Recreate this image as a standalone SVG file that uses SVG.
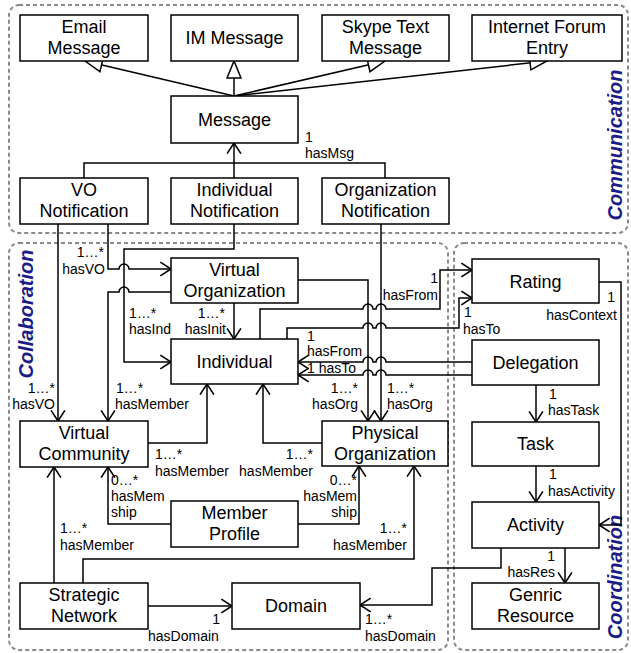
<svg xmlns="http://www.w3.org/2000/svg" width="631" height="653" viewBox="0 0 631 653">
<style>
.c{fill:none;stroke:#8a8a8a;stroke-width:2;stroke-dasharray:4,3}
.b{fill:#fff;stroke:#000;stroke-width:1.5}
.t{font-family:"Liberation Sans",Arial,sans-serif;font-size:18px;fill:#000;text-anchor:middle}
.l{font-family:"Liberation Sans",Arial,sans-serif;font-size:14px;fill:#000}
.e{text-anchor:end}
.g{font-family:"Liberation Sans",Arial,sans-serif;font-size:20px;font-weight:bold;font-style:italic;fill:#1c1c88;text-anchor:middle}
.k{fill:none;stroke:#000;stroke-width:1.5}
.a{marker-end:url(#arr)}
.h{marker-end:url(#tri)}
</style>
<defs>
<marker id="arr" markerUnits="userSpaceOnUse" markerWidth="14" markerHeight="16" viewBox="-1 -1 13 15" refX="10" refY="6.5" orient="auto">
<path d="M0,0 L10,6.5 L0,13" fill="none" stroke="#000" stroke-width="1.5"/>
</marker>
<marker id="tri" markerUnits="userSpaceOnUse" markerWidth="20" markerHeight="18" viewBox="-1 -1 20 18" refX="17" refY="7" orient="auto">
<path d="M0,0 L17,7 L0,14 Z" fill="#fff" stroke="#000" stroke-width="1.5"/>
</marker>
</defs>

<g id="containers">
<rect class="c" x="9" y="5" width="619" height="228" rx="10"/>
<rect class="c" x="9" y="243" width="439" height="407" rx="10"/>
<rect class="c" x="454" y="243" width="174" height="407" rx="10"/>
<text class="g" transform="translate(622,145) rotate(-90)">Communication</text>
<text class="g" transform="translate(33,314) rotate(-90)">Collaboration</text>
<text class="g" transform="translate(622,577) rotate(-90)">Coordination</text>
</g>

<g id="connectors">
<path class="k h" d="M234,96 L85,61"/>
<path class="k h" d="M234,96 L234,61"/>
<path class="k h" d="M234,96 L385,61"/>
<path class="k h" d="M234,96 L547,61"/>
<path class="k a" d="M234,178 L234,143"/>
<path class="k" d="M84,178 L84,163 L385,163 L385,178"/>
<path class="k a" d="M58,224 L58,421"/>
<path class="k a" d="M108,224 L108,269 L119,269 A5,5 0 0 1 129,269 L171,269"/>
<path class="k a" d="M234,224 L234,249 L124,249 L124,362 L171,362"/>
<path class="k a" d="M171,292 L129,292 A5,5 0 0 0 119,292 L108,292 L108,421"/>
<path class="k a" d="M234,303 L234,339"/>
<path class="k a" d="M298,280 L368,280 L368,421"/>
<path class="k a" d="M381,224 L381,421"/>
<path class="k a" d="M260,339 L260,309 L363,309 A5,5 0 0 1 373,309 L376,309 A5,5 0 0 1 386,309 L440,309 L440,270 L472,270"/>
<path class="k a" d="M287,339 L287,328 L363,328 A5,5 0 0 1 373,328 L376,328 A5,5 0 0 1 386,328 L459,328 L459,298 L472,298"/>
<path class="k a" d="M472,362 L386,362 A5,5 0 0 0 376,362 L373,362 A5,5 0 0 0 363,362 L298,362"/>
<path class="k a" d="M472,375 L386,375 A5,5 0 0 0 376,375 L373,375 A5,5 0 0 0 363,375 L298,375"/>
<path class="k a" d="M148,443 L207,443 L207,384"/>
<path class="k a" d="M322,443 L263,443 L263,384"/>
<path class="k a" d="M171,524 L108,524 L108,467"/>
<path class="k a" d="M298,524 L359,524 L359,466"/>
<path class="k a" d="M54,583 L54,467"/>
<path class="k a" d="M83,583 L83,559 L414,559 L414,466"/>
<path class="k a" d="M148,606 L232,606"/>
<path class="k a" d="M501,548 L501,568 L432,568 L432,605 L360,605"/>
<path class="k a" d="M565,548 L565,583"/>
<path class="k a" d="M536,385 L536,422"/>
<path class="k a" d="M536,466 L536,502"/>
<path class="k a" d="M599,282 L621,282 L621,525 L599,525"/>
</g>

<g id="labels">
<text class="l" x="305" y="142">1</text><text class="l" x="305" y="158">hasMsg</text>
<text class="l e" x="55" y="393">1…*</text><text class="l e" x="55" y="409">hasVO</text>
<text class="l e" x="104" y="257">1…*</text><text class="l e" x="105" y="274">hasVO</text>
<text class="l" x="129" y="318">1…*</text><text class="l" x="129" y="334">hasInd</text>
<text class="l e" x="225" y="318">1…*</text><text class="l e" x="226" y="334">hasInit</text>
<text class="l" x="116" y="393">1…*</text><text class="l" x="115" y="409">hasMember</text>
<text class="l e" x="358" y="393">1…*</text><text class="l e" x="358" y="409">hasOrg</text>
<text class="l" x="387" y="393">1…*</text><text class="l" x="387" y="409">hasOrg</text>
<text class="l e" x="438" y="283">1</text><text class="l e" x="438" y="300">hasFrom</text>
<text class="l" x="464" y="317">1</text><text class="l" x="463" y="334">hasTo</text>
<text class="l" x="307" y="341">1</text><text class="l" x="307" y="356">hasFrom</text>
<text class="l" x="307" y="373">1 hasTo</text>
<text class="l" x="155" y="459">1…*</text><text class="l" x="155" y="476">hasMember</text>
<text class="l e" x="313" y="459">1…*</text><text class="l e" x="313" y="476">hasMember</text>
<text class="l" x="111" y="485">0…*</text><text class="l" x="111" y="501">hasMem</text><text class="l" x="111" y="517">ship</text>
<text class="l e" x="357" y="485">0…*</text><text class="l e" x="357" y="501">hasMem</text><text class="l e" x="357" y="517">ship</text>
<text class="l" x="60" y="533">1…*</text><text class="l" x="60" y="550">hasMember</text>
<text class="l e" x="407" y="533">1…*</text><text class="l e" x="407" y="550">hasMember</text>
<text class="l e" x="220" y="624">1</text><text class="l" x="148" y="641">hasDomain</text>
<text class="l" x="365" y="624">1…*</text><text class="l" x="365" y="641">hasDomain</text>
<text class="l e" x="555" y="561">1</text><text class="l e" x="555" y="577">hasRes</text>
<text class="l" x="549" y="399">1</text><text class="l" x="548" y="415">hasTask</text>
<text class="l" x="549" y="479">1</text><text class="l" x="548" y="496">hasActivity</text>
<text class="l e" x="615" y="302">1</text><text class="l e" x="617" y="320">hasContext</text>
</g>

<g id="email-message"><rect class="b" x="20" y="15" width="128" height="46"/><text class="t" x="84" y="33">Email</text><text class="t" x="84" y="54">Message</text></g>
<g id="im-message"><rect class="b" x="171" y="15" width="127" height="46"/><text class="t" x="234.5" y="44">IM Message</text></g>
<g id="skype-text-message"><rect class="b" x="322" y="15" width="127" height="46"/><text class="t" x="385.5" y="33">Skype Text</text><text class="t" x="385.5" y="54">Message</text></g>
<g id="internet-forum-entry"><rect class="b" x="472" y="15" width="150" height="46"/><text class="t" x="547" y="33">Internet Forum</text><text class="t" x="547" y="54">Entry</text></g>
<g id="message"><rect class="b" x="171" y="96" width="127" height="47"/><text class="t" x="234.5" y="126">Message</text></g>
<g id="vo-notification"><rect class="b" x="20" y="178" width="128" height="46"/><text class="t" x="84" y="196">VO</text><text class="t" x="84" y="217">Notification</text></g>
<g id="individual-notification"><rect class="b" x="171" y="178" width="127" height="46"/><text class="t" x="234.5" y="196">Individual</text><text class="t" x="234.5" y="217">Notification</text></g>
<g id="organization-notification"><rect class="b" x="322" y="178" width="127" height="46"/><text class="t" x="385.5" y="196">Organization</text><text class="t" x="385.5" y="217">Notification</text></g>

<g id="virtual-organization"><rect class="b" x="171" y="258" width="127" height="45"/><text class="t" x="234.5" y="276">Virtual</text><text class="t" x="234.5" y="297">Organization</text></g>
<g id="individual"><rect class="b" x="171" y="339" width="127" height="45"/><text class="t" x="234.5" y="368">Individual</text></g>
<g id="virtual-community"><rect class="b" x="20" y="421" width="128" height="46"/><text class="t" x="84" y="439">Virtual</text><text class="t" x="84" y="460">Community</text></g>
<g id="physical-organization"><rect class="b" x="322" y="421" width="126" height="45"/><text class="t" x="385" y="439">Physical</text><text class="t" x="385" y="460">Organization</text></g>
<g id="member-profile"><rect class="b" x="171" y="501" width="127" height="46"/><text class="t" x="234.5" y="519">Member</text><text class="t" x="234.5" y="540">Profile</text></g>
<g id="strategic-network"><rect class="b" x="20" y="583" width="128" height="46"/><text class="t" x="84" y="601">Strategic</text><text class="t" x="84" y="622">Network</text></g>
<g id="domain"><rect class="b" x="232" y="583" width="128" height="46"/><text class="t" x="296" y="612">Domain</text></g>

<g id="rating"><rect class="b" x="472" y="259" width="127" height="44"/><text class="t" x="535.5" y="288">Rating</text></g>
<g id="delegation"><rect class="b" x="472" y="340" width="127" height="45"/><text class="t" x="535.5" y="369">Delegation</text></g>
<g id="task"><rect class="b" x="472" y="422" width="127" height="44"/><text class="t" x="535.5" y="450">Task</text></g>
<g id="activity"><rect class="b" x="472" y="502" width="127" height="46"/><text class="t" x="535.5" y="531">Activity</text></g>
<g id="genric-resource"><rect class="b" x="472" y="583" width="127" height="46"/><text class="t" x="535.5" y="601">Genric</text><text class="t" x="535.5" y="622">Resource</text></g>
</svg>
